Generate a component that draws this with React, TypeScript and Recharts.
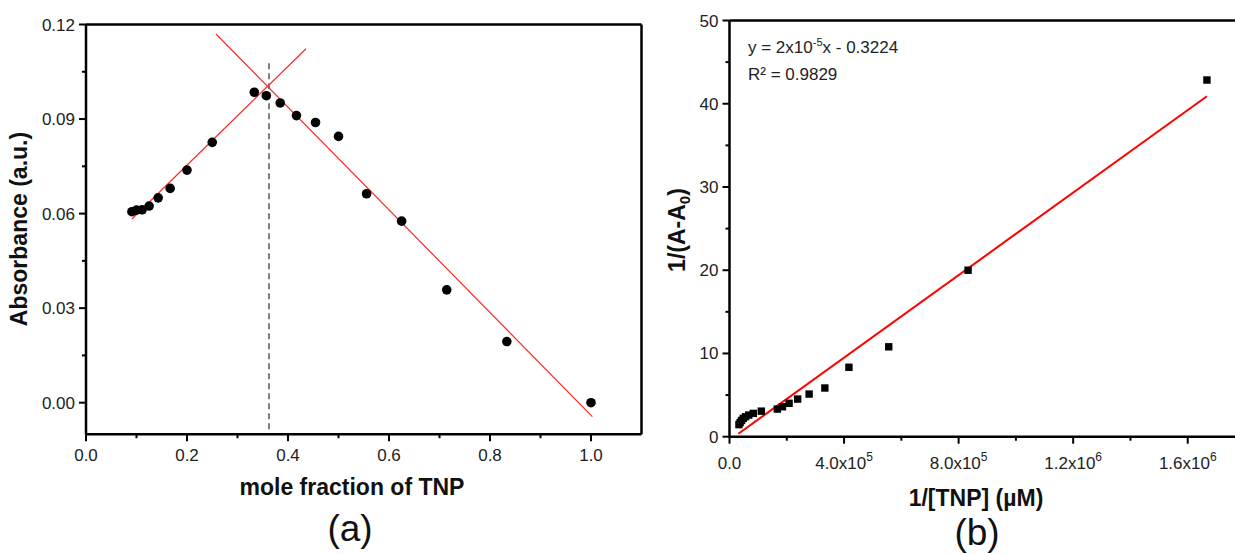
import React from 'react';
import { ScatterChart, Scatter, XAxis, YAxis, ReferenceLine } from 'recharts';

const FONT = '"Liberation Sans", Arial, Helvetica, sans-serif';

// (a) Job's plot: absorbance against mole fraction of TNP
const moleFraction = [
  0.0909, 0.1, 0.1111, 0.125, 0.1429, 0.1667, 0.2, 0.25, 0.3333, 0.3571,
  0.3846, 0.4167, 0.4545, 0.5, 0.5556, 0.625, 0.7143, 0.8333, 1.0,
];
const absorbance = [
  0.0606, 0.0611, 0.0612, 0.0624, 0.065, 0.068, 0.0738, 0.0826, 0.0985, 0.0974,
  0.0951, 0.0911, 0.0889, 0.0845, 0.0663, 0.0576, 0.0358, 0.0194, 0.0,
];
// linear fits on the two branches, and the crossing point
const riseFit = [
  { x: 0.091, y: 0.0583 },
  { x: 0.4356, y: 0.1123 },
];
const fallFit = [
  { x: 0.2574, y: 0.117 },
  { x: 1.0026, y: -0.0044 },
];
const crossX = 0.3624;
const crossTop = 0.1077;

const aXTicks = [0, 0.1, 0.2, 0.3, 0.4, 0.5, 0.6, 0.7, 0.8, 0.9, 1.0];
const aXMajor = [0, 0.2, 0.4, 0.6, 0.8, 1.0];
const aYTicks = [0, 0.015, 0.03, 0.045, 0.06, 0.075, 0.09, 0.105, 0.12];
const aYMajor = [0, 0.03, 0.06, 0.09, 0.12];

// (b) Benesi-Hildebrand plot
const inverseConc = [
  1667000, 833000, 556000, 417000, 333000, 278000, 238000, 208000, 185000,
  167000, 111000, 83000, 67000, 56000, 48000, 42000, 37000, 33000,
];
const inverseDelta = [
  42.85, 20.0, 10.8, 8.34, 5.85, 5.12, 4.52, 4.01, 3.6, 3.32, 3.07, 2.8, 2.6,
  2.4, 2.2, 1.95, 1.7, 1.45,
];
const bhFit = [
  { x: 31000, y: 0.35 },
  { x: 1667000, y: 40.9 },
];
const bXTicks = [0, 200000, 400000, 600000, 800000, 1000000, 1200000, 1400000, 1600000];
const bXMajor: Record<number, [string, string]> = {
  0: ['0.0', ''],
  400000: ['4.0x10', '5'],
  800000: ['8.0x10', '5'],
  1200000: ['1.2x10', '6'],
  1600000: ['1.6x10', '6'],
};
const bYTicks = [0, 5, 10, 15, 20, 25, 30, 35, 40, 45, 50];
const bYMajor = [0, 10, 20, 30, 40, 50];

const jobData = moleFraction.map((x, i) => ({ x, y: absorbance[i] }));
const bhData = inverseConc.map((x, i) => ({ x, y: inverseDelta[i] }));

const TICK_COLOR = '#222';
const MAJOR = 7;
const MINOR = 4;
const AXIS_W = 60;
const AXIS_H = 50;

const near = (list: number[], v: number) => list.some((m) => Math.abs(m - v) < 1e-9);

const BottomTickA = (props: any) => {
  const { x, y, payload } = props;
  const major = near(aXMajor, payload.value);
  return (
    <g>
      <line x1={x} x2={x} y1={y} y2={y + (major ? MAJOR : MINOR)} stroke="#000" strokeWidth={2} />
      {major && (
        <text x={x} y={y + 27} textAnchor="middle" fontSize={17} fill={TICK_COLOR} fontFamily={FONT}>
          {payload.value.toFixed(1)}
        </text>
      )}
    </g>
  );
};

const LeftTickA = (props: any) => {
  const { x, y, payload } = props;
  const major = near(aYMajor, payload.value);
  return (
    <g>
      <line x1={x} x2={x - (major ? MAJOR : MINOR)} y1={y} y2={y} stroke="#000" strokeWidth={2} />
      {major && (
        <text x={x - 11} y={y + 6} textAnchor="end" fontSize={17} fill={TICK_COLOR} fontFamily={FONT}>
          {payload.value.toFixed(2)}
        </text>
      )}
    </g>
  );
};

const BottomTickB = (props: any) => {
  const { x, y, payload } = props;
  const label = bXMajor[payload.value];
  return (
    <g>
      <line x1={x} x2={x} y1={y} y2={y + (label ? MAJOR : MINOR)} stroke="#000" strokeWidth={2} />
      {label && (
        <text x={x} y={y + 32} textAnchor="middle" fontSize={17} fill={TICK_COLOR} fontFamily={FONT}>
          <tspan>{label[0]}</tspan>
          {label[1] && (
            <tspan dy={-8} fontSize={12}>
              {label[1]}
            </tspan>
          )}
        </text>
      )}
    </g>
  );
};

const LeftTickB = (props: any) => {
  const { x, y, payload } = props;
  const major = near(bYMajor, payload.value);
  return (
    <g>
      <line x1={x} x2={x - (major ? MAJOR : MINOR)} y1={y} y2={y} stroke="#000" strokeWidth={2} />
      {major && (
        <text x={x - 11} y={y + 6} textAnchor="end" fontSize={17} fill={TICK_COLOR} fontFamily={FONT}>
          {payload.value}
        </text>
      )}
    </g>
  );
};

const Dot = (props: any) => <circle cx={props.cx} cy={props.cy} r={4.8} fill="#000" />;
const Square = (props: any) => (
  <rect x={props.cx - 3.7} y={props.cy - 3.7} width={7.4} height={7.4} fill="#000" />
);

const frame = { stroke: '#000', strokeWidth: 2.5 };

const JobPlot = () => (
  <ScatterChart
    width={660}
    height={554}
    margin={{ top: 24.5, left: 86 - AXIS_W, right: 18.5, bottom: 119.8 - AXIS_H }}
  >
    <XAxis
      type="number"
      dataKey="x"
      domain={[0, 1.1]}
      ticks={aXTicks}
      interval={0}
      tickSize={0}
      tickMargin={0}
      height={AXIS_H}
      stroke="#000"
      tickLine={false}
      axisLine={frame}
      tick={BottomTickA}
    />
    <YAxis
      type="number"
      dataKey="y"
      domain={[-0.01, 0.12]}
      ticks={aYTicks}
      interval={0}
      tickSize={0}
      tickMargin={0}
      width={AXIS_W}
      stroke="#000"
      tickLine={false}
      axisLine={frame}
      tick={LeftTickA}
    />
    <ReferenceLine y={0.12} stroke="#000" strokeWidth={2.5} />
    <ReferenceLine x={1.1} stroke="#000" strokeWidth={2.5} />
    <ReferenceLine
      segment={[
        { x: crossX, y: crossTop },
        { x: crossX, y: -0.01 },
      ]}
      stroke="#555"
      strokeWidth={1.5}
      strokeDasharray="6 4"
      ifOverflow="visible"
    />
    <ReferenceLine segment={riseFit} stroke="#ff2828" strokeWidth={1.2} ifOverflow="visible" />
    <ReferenceLine segment={fallFit} stroke="#ff2828" strokeWidth={1.2} ifOverflow="visible" />
    <Scatter data={jobData} shape={Dot} isAnimationActive={false} />
  </ScatterChart>
);

const BHPlot = () => (
  <ScatterChart
    width={575}
    height={554}
    margin={{ top: 20.5, left: 69.5 - AXIS_W, right: 0, bottom: 117.3 - AXIS_H }}
  >
    <XAxis
      type="number"
      dataKey="x"
      domain={[0, 1765000]}
      ticks={bXTicks}
      interval={0}
      tickSize={0}
      tickMargin={0}
      height={AXIS_H}
      stroke="#000"
      tickLine={false}
      axisLine={frame}
      tick={BottomTickB}
    />
    <YAxis
      type="number"
      dataKey="y"
      domain={[0, 50]}
      ticks={bYTicks}
      interval={0}
      tickSize={0}
      tickMargin={0}
      width={AXIS_W}
      stroke="#000"
      tickLine={false}
      axisLine={frame}
      tick={LeftTickB}
    />
    <ReferenceLine y={50} stroke="#000" strokeWidth={2.5} />
    <ReferenceLine segment={bhFit} stroke="#ff0000" strokeWidth={2} ifOverflow="visible" />
    <Scatter data={bhData} shape={Square} isAnimationActive={false} />
  </ScatterChart>
);

export default function App() {
  return (
    <div style={{ position: 'relative', width: 1235, height: 554, background: '#fff', overflow: 'hidden' }}>
      <style>{'body{margin:0;background:#fff;}'}</style>
      <div style={{ position: 'absolute', left: 0, top: 0 }}>
        <JobPlot />
      </div>
      <div style={{ position: 'absolute', left: 660, top: 0 }}>
        <BHPlot />
      </div>
      <svg
        width={1235}
        height={554}
        style={{ position: 'absolute', left: 0, top: 0, pointerEvents: 'none' }}
        fontFamily={FONT}
      >
        <text transform="translate(19,229) rotate(-90)" y={8} textAnchor="middle" fontSize={23} fontWeight="bold" fill="#111">
          Absorbance (a.u.)
        </text>
        <text x={352} y={495} textAnchor="middle" fontSize={23} fontWeight="bold" fill="#111">
          mole fraction of TNP
        </text>
        <text x={350} y={541} textAnchor="middle" fontSize={37} fill="#111">
          (a)
        </text>

        <text transform="translate(677,230) rotate(-90)" y={8} textAnchor="middle" fontSize={23} fontWeight="bold" fill="#111">
          <tspan>1/(A-A</tspan>
          <tspan dy={5} fontSize={15}>0</tspan>
          <tspan dy={-5}>)</tspan>
        </text>
        <text x={976} y={506} textAnchor="middle" fontSize={23} fontWeight="bold" fill="#111">
          1/[TNP] (µM)
        </text>
        <text x={977} y={545} textAnchor="middle" fontSize={37} fill="#111">
          (b)
        </text>

        <text x={748} y={53} fontSize={17} fill={TICK_COLOR}>
          <tspan>y = 2x10</tspan>
          <tspan dy={-7} fontSize={11}>-5</tspan>
          <tspan dy={7}>x - 0.3224</tspan>
        </text>
        <text x={748} y={80} fontSize={17} fill={TICK_COLOR}>
          R² = 0.9829
        </text>
      </svg>
    </div>
  );
}
